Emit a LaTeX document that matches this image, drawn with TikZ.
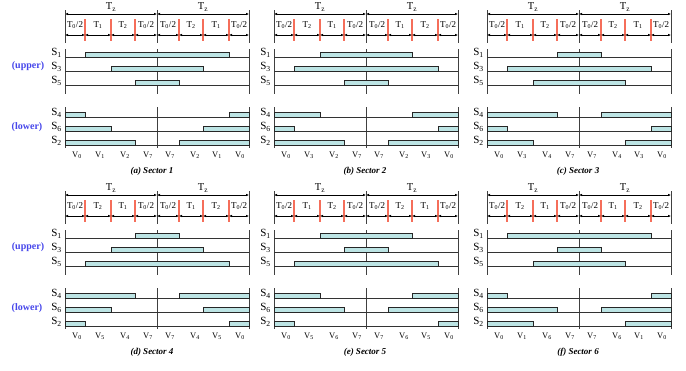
\documentclass[tikz,border=0pt]{standalone}
\usepackage{fontspec}
\setmainfont{Liberation Serif}
\usetikzlibrary{arrows.meta}
\definecolor{barfill}{RGB}{188,228,228}
\definecolor{redmark}{RGB}{245,110,90}
\definecolor{bluetxt}{RGB}{70,70,235}
\tikzset{
  dim/.style={{Latex[length=3pt,width=2.6pt]}-{Latex[length=3pt,width=2.6pt]}, line width=0.6pt},
  frame/.style={line width=0.8pt, black!75},
  redline/.style={line width=1.3pt, redmark},
  sig/.style={line width=0.8pt, black!80},
  bar/.style={draw=black!85, line width=0.6pt, fill=barfill},
  tzlab/.style={font=\fontsize{10.5}{11}\selectfont, inner sep=0pt},
  tlab/.style={font=\fontsize{9}{10}\selectfont, inner sep=0pt},
  slab/.style={font=\fontsize{11}{12}\selectfont, inner sep=0pt, anchor=east},
  vlab/.style={font=\fontsize{8.5}{10}\selectfont, inner sep=0pt},
  captxt/.style={font=\fontsize{9}{10}\selectfont\bfseries\itshape, inner sep=0pt},
  side/.style={font=\fontsize{10}{11}\selectfont\bfseries, text=bluetxt, inner sep=0pt},
}
\newcommand\Th{T\textsubscript{0}/2}
% #1 X, #2 Y, #3 #4 T order, #5 S1 level, #6 S3 level, #7 S5 level, #8 #9 vectors
\newcommand\panel[9]{%
\begin{scope}[shift={(#1,#2)}]
  \pgfmathtruncatemacro\la{{0,20,46,70}[#5]}
  \pgfmathtruncatemacro\lb{{0,20,46,70}[#6]}
  \pgfmathtruncatemacro\lc{{0,20,46,70}[#7]}
  % timing header
  \node[tzlab] (\pid-tzl) at (46,7) {T\textsubscript{z}};
  \node[tzlab] (\pid-tzr) at (138,7) {T\textsubscript{z}};
  \coordinate (\pid-l) at (0,14);
  \coordinate (\pid-c) at (92,14);
  \coordinate (\pid-r) at (184,14);
  \draw[dim] (\pid-l) -- (\pid-c);
  \draw[dim] (\pid-c) -- (\pid-r);
  \foreach \x in {0,92,184} \draw[frame] (\x,10) -- (\x,43);
  \foreach \x in {20,46,70,114,138,164} \draw[redline] (\x,19) -- (\x,41);
  \foreach \a/\b in {0/20,20/46,46/70,70/92,92/114,114/138,138/164,164/184}
    \draw[dim] (\a,35) -- (\b,35);
  \foreach \x/\t [count=\i] in {10/\Th,33/T\textsubscript{#3},58/T\textsubscript{#4},81/\Th,103/\Th,126/T\textsubscript{#4},151/T\textsubscript{#3},174/\Th}
    \node[tlab] (\pid-t\i) at (\x,25) {\t};
  % upper switches
  \foreach \x in {0,92,184} \draw[frame] (\x,49) -- (\x,94);
  \draw[sig] (0,57) -- (184,57);
  \draw[sig] (0,71) -- (184,71);
  \draw[sig] (0,85) -- (184,85);
  \draw[bar] (\la,52) rectangle ({184-\la},57);
  \draw[bar] (\lb,66) rectangle ({184-\lb},71);
  \draw[bar] (\lc,80) rectangle ({184-\lc},85);
  \node[slab] (\pid-s1) at (-3,53) {S\textsubscript{1}};
  \node[slab] (\pid-s3) at (-3,67) {S\textsubscript{3}};
  \node[slab] (\pid-s5) at (-3,81) {S\textsubscript{5}};
  % lower switches
  \foreach \x in {0,92,184} \draw[frame] (\x,107) -- (\x,148);
  \draw[sig] (0,117) -- (184,117);
  \draw[sig] (0,131) -- (184,131);
  \draw[sig] (0,145) -- (184,145);
  \draw[bar] (0,112) rectangle (\la,117);
  \draw[bar] ({184-\la},112) rectangle (184,117);
  \draw[bar] (0,126) rectangle (\lb,131);
  \draw[bar] ({184-\lb},126) rectangle (184,131);
  \draw[bar] (0,140) rectangle (\lc,145);
  \draw[bar] ({184-\lc},140) rectangle (184,145);
  \node[slab] (\pid-s4) at (-3,113) {S\textsubscript{4}};
  \node[slab] (\pid-s6) at (-3,127) {S\textsubscript{6}};
  \node[slab] (\pid-s2) at (-3,141) {S\textsubscript{2}};
  \foreach \x/\t [count=\i] in {12/0,35/#8,60/#9,83/7,105/7,130/#9,152/#8,175/0}
    \node[vlab] (\pid-v\i) at (\x,155) {V\textsubscript{\t}};
\end{scope}}
\begin{document}
\begin{tikzpicture}[x=1pt,y=-1pt]
\useasboundingbox[fill=white] (0,0) rectangle (686,370);
\def\pid{a}\panel{65}{0}{1}{2}{1}{2}{3}{1}{2}
\def\pid{b}\panel{274}{0}{2}{1}{2}{1}{3}{3}{2}
\def\pid{c}\panel{487}{0}{1}{2}{3}{1}{2}{3}{4}
\def\pid{d}\panel{65}{181}{2}{1}{3}{2}{1}{5}{4}
\def\pid{e}\panel{274}{181}{1}{2}{2}{3}{1}{5}{6}
\def\pid{f}\panel{487}{181}{2}{1}{1}{3}{2}{1}{6}
\node[captxt] (capa) at (152,171) {(a) Sector 1};
\node[captxt] (capb) at (365,171) {(b) Sector 2};
\node[captxt] (capc) at (578,171) {(c) Sector 3};
\node[captxt] (capd) at (152,352) {(d) Sector 4};
\node[captxt] (cape) at (365,352) {(e) Sector 5};
\node[captxt] (capf) at (578,352) {(f) Sector 6};
\node[side] (up1) at (28,66) {(upper)};
\node[side] (lo1) at (27,127) {(lower)};
\node[side] (up2) at (28,247) {(upper)};
\node[side] (lo2) at (27,308) {(lower)};
\end{tikzpicture}
\end{document}
